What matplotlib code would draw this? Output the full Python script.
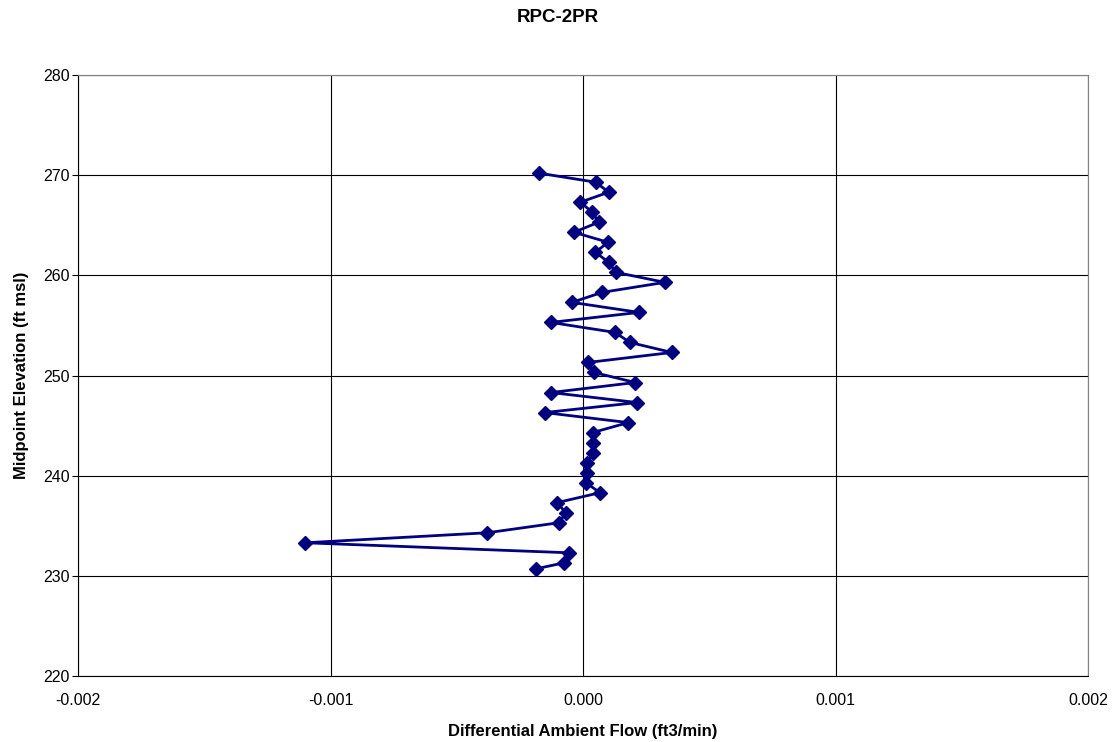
import numpy as np
import matplotlib.pyplot as plt

plt.rcParams['font.family'] = ['Liberation Sans', 'DejaVu Sans']

# Data
flow = [-0.000174, 0.000050, 0.000102, -0.000011, 0.000037, 0.000062, -0.000036,
        0.000099, 0.000049, 0.000102, 0.000130, 0.000324, 0.000076, -0.000044,
        0.000222, -0.000127, 0.000127, 0.000186, 0.000352, 0.000019, 0.000044,
        0.000207, -0.000127, 0.000215, -0.000152, 0.000179, 0.000038, 0.000041,
        0.000041, 0.000015, 0.000015, 0.000012, 0.000067, -0.000104, -0.000067,
        -0.000096, -0.000379, -0.001100, -0.000054, -0.000075, -0.000186]
elev = [270.2, 269.3, 268.3, 267.3, 266.3, 265.3, 264.3, 263.3, 262.3, 261.3,
        260.3, 259.3, 258.3, 257.3, 256.3, 255.3, 254.3, 253.3, 252.3, 251.3,
        250.3, 249.3, 248.3, 247.3, 246.3, 245.3, 244.3, 243.3, 242.3, 241.3,
        240.3, 239.3, 238.3, 237.3, 236.3, 235.3, 234.3, 233.3, 232.3, 231.3,
        230.7]
xticks = [-0.002, -0.001, 0, 0.001, 0.002]
xtick_labels = ['-0.002', '-0.001', '0.000', '0.001', '0.002']

fig = plt.figure(figsize=(11.16, 7.42), dpi=100)
ax = fig.add_axes([78 / 1116, 1 - 676 / 742, (1088 - 78) / 1116, (676 - 75) / 742])

ax.plot(flow, elev, color='#000080', linewidth=2, marker='D', markersize=7,
        markerfacecolor='#000080', markeredgecolor='#000080', zorder=3)

ax.set_xlim(-0.002, 0.002)
ax.set_ylim(220, 280)
ax.set_xticks(xticks)
ax.set_xticklabels(xtick_labels)
ax.set_yticks(np.arange(220, 281, 10))
ax.grid(True, color='black', linewidth=0.8)
ax.set_axisbelow(True)

for s in ax.spines.values():
    s.set_color('#808080')
ax.spines['left'].set_color('black')
ax.spines['bottom'].set_color('black')

ax.tick_params(axis='y', labelsize=11.5, length=4, color='black', pad=2)
ax.tick_params(axis='x', labelsize=11.5, length=0, pad=12.5)
ax.set_xlabel('Differential Ambient Flow (ft3/min)', fontsize=12, fontweight='bold', labelpad=11)
ax.set_ylabel('Midpoint Elevation (ft msl)', fontsize=12, fontweight='bold', labelpad=10)
fig.text(0.5, 1 - 18 / 742, 'RPC-2PR', fontsize=13.5, fontweight='bold',
         ha='center', va='center')

plt.savefig('out.png', dpi=100)
